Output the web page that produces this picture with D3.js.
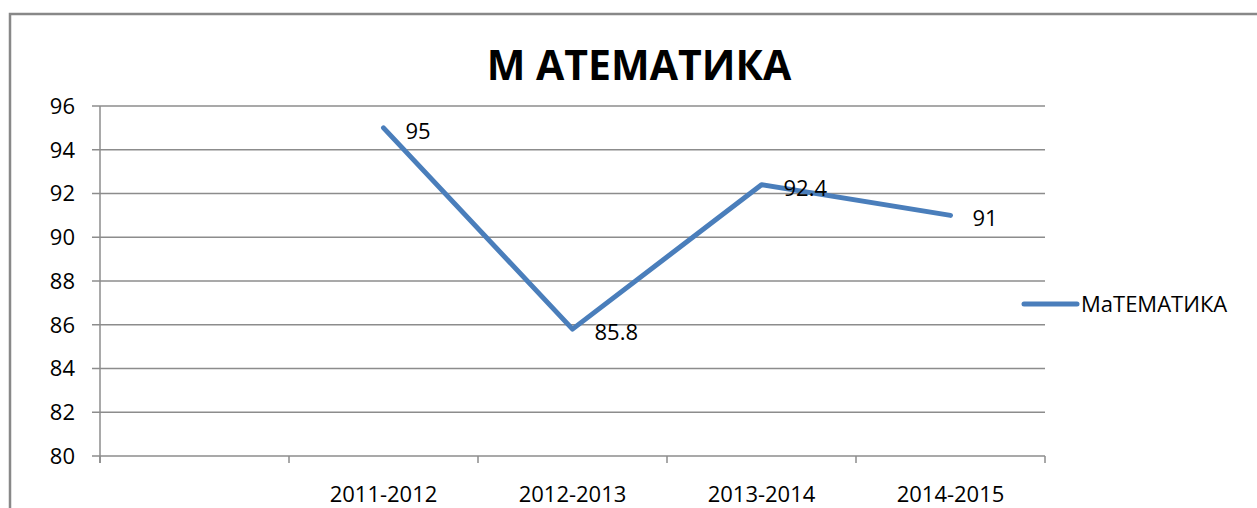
<!DOCTYPE html>
<html lang="ru">
<head>
<meta charset="utf-8">
<script src="https://cdnjs.cloudflare.com/ajax/libs/d3/7.8.5/d3.min.js"></script>
<style>
  body { margin: 0; background: #fff; }
  svg { display: block; font-family: "Open Sans", "Noto Sans", sans-serif; }
</style>
</head>
<body>
<script>
// data
var categories = ["", "2011-2012", "2012-2013", "2013-2014", "2014-2015"]
var values = [null, 95, 85.8, 92.4, 91]
var yTicks = [80, 82, 84, 86, 88, 90, 92, 94, 96]
var title = "М АТЕМАТИКА"
var seriesName = "МаТЕМАТИКА"

var width = 1257, height = 508
var lineColor = "#4a7ebb"
var gridColor = "#8c8c8c"
var plot = {left: 100, right: 1045, top: 106, bottom: 456}

var svg = d3.select("body").append("svg")
    .attr("width", width)
    .attr("height", height)

// chart frame
svg.append("path")
    .attr("d", "M10,520 L10,14 L1270,14")
    .attr("fill", "none")
    .attr("stroke", "#888")
    .attr("stroke-width", 2.5)

var x = d3.scaleBand().domain(categories.map((c, i) => i)).range([plot.left, plot.right]).padding(0)
var y = d3.scaleLinear().domain([80, 96]).range([plot.bottom, plot.top])

// gridlines
svg.append("g")
    .selectAll("line")
    .data(yTicks)
    .join("line")
    .attr("x1", plot.left - 8).attr("x2", plot.right)
    .attr("y1", d => y(d)).attr("y2", d => y(d))
    .attr("stroke", gridColor).attr("stroke-width", 1.5)

// y labels
svg.append("g")
    .selectAll("text")
    .data(yTicks)
    .join("text")
    .attr("x", plot.left - 25)
    .attr("y", d => y(d))
    .attr("dy", "0.36em")
    .attr("text-anchor", "end")
    .attr("font-size", 22)
    .attr("fill", "#000")
    .text(d => d)

// y axis line
svg.append("line")
    .attr("x1", plot.left).attr("x2", plot.left)
    .attr("y1", plot.top).attr("y2", plot.bottom + 7)
    .attr("stroke", gridColor).attr("stroke-width", 1.5)

// category ticks
var tickPos = d3.range(categories.length + 1).map(i => i < categories.length ? x(i) : plot.right)
svg.append("g")
    .selectAll("line")
    .data(tickPos)
    .join("line")
    .attr("x1", d => d).attr("x2", d => d)
    .attr("y1", plot.bottom).attr("y2", plot.bottom + 7)
    .attr("stroke", gridColor).attr("stroke-width", 1.5)

// category labels
svg.append("g")
    .selectAll("text")
    .data(categories)
    .join("text")
    .attr("x", (d, i) => x(i) + x.bandwidth() / 2)
    .attr("y", 502)
    .attr("text-anchor", "middle")
    .attr("font-size", 22)
    .attr("fill", "#000")
    .text(d => d)

// line
var pts = values.map((v, i) => ({i: i, v: v})).filter(d => d.v !== null)
svg.append("path")
    .datum(pts)
    .attr("fill", "none")
    .attr("stroke", lineColor)
    .attr("stroke-width", 5)
    .attr("stroke-linejoin", "round")
    .attr("stroke-linecap", "round")
    .attr("d", d3.line().x(d => x(d.i) + x.bandwidth() / 2).y(d => y(d.v)))

// data labels
svg.append("g")
    .selectAll("text")
    .data(pts)
    .join("text")
    .attr("x", d => x(d.i) + x.bandwidth() / 2 + 22)
    .attr("y", d => y(d.v) + 3)
    .attr("dy", "0.36em")
    .attr("font-size", 22)
    .attr("fill", "#000")
    .text(d => d.v)

// title
svg.append("text")
    .attr("x", 639)
    .attr("y", 80)
    .attr("text-anchor", "middle")
    .attr("font-size", 41)
    .attr("font-weight", "bold")
    .attr("fill", "#000")
    .text(title)

// legend
svg.append("line")
    .attr("x1", 1024).attr("x2", 1077)
    .attr("y1", 304).attr("y2", 304)
    .attr("stroke", lineColor).attr("stroke-width", 5)
    .attr("stroke-linecap", "round")
svg.append("text")
    .attr("x", 1081)
    .attr("y", 304)
    .attr("dy", "0.36em")
    .attr("font-size", 22)
    .attr("fill", "#000")
    .text(seriesName)
</script>
</body>
</html>
